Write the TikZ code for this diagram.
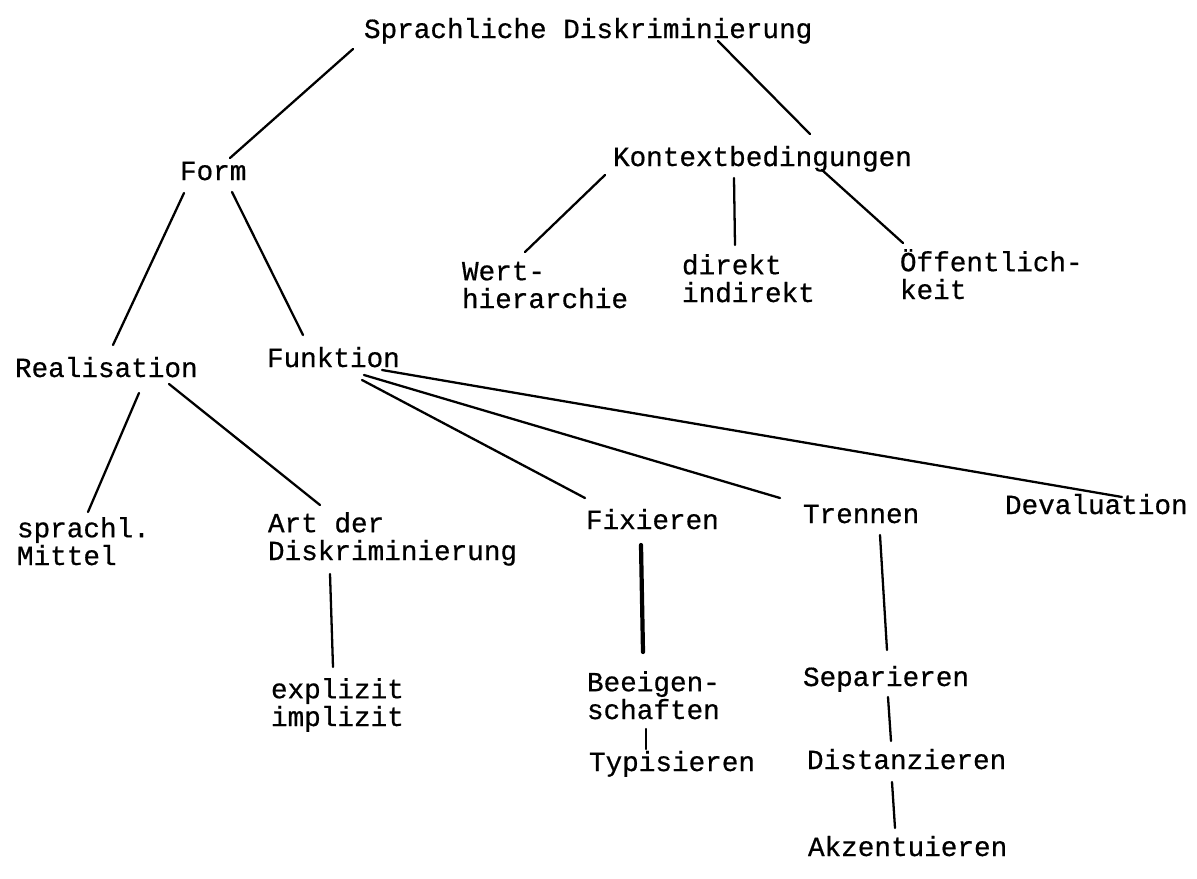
\documentclass[tikz,border=0pt]{standalone}
\usepackage{fontspec}
\newfontfamily\twfont[FakeBold=0.6]{Liberation Mono}
\usetikzlibrary{calc}
\begin{document}
\begin{tikzpicture}[x=0.02cm,y=-0.02cm,
  lbl/.style={anchor=base west,inner sep=0pt,outer sep=0pt,align=left,
    font=\twfont\fontsize{15.75pt}{15.8pt}\selectfont},
  edge/.style={line width=1.3pt,line cap=round},
  boldedge/.style={line width=2.4pt,line cap=round}]
\fill[white] (0,0) rectangle (1197,879);
\useasboundingbox (0,0) rectangle (1197,879);

% nodes (two-line nodes are placed by the baseline of their last line)
\node[lbl] (S)    at (364,38)  {Sprachliche Diskriminierung};
\node[lbl] (form) at (180,180) {Form};
\node[lbl] (K)    at (613,166) {Kontextbedingungen};
\node[lbl] (wert) at (462,308) {Wert-\\hierarchie};
\node[lbl] (dir)  at (682,302) {direkt\\indirekt};
\node[lbl] (oef)  at (900,299) {Öffentlich-\\keit};
\node[lbl] (real) at (15,377)  {Realisation};
\node[lbl] (funk) at (267,367) {Funktion};
\node[lbl] (spr)  at (17,565)  {sprachl.\\Mittel};
\node[lbl] (art)  at (268,560) {Art der\\Diskriminierung};
\node[lbl] (expl) at (271,726) {explizit\\implizit};
\node[lbl] (fix)  at (586,529) {Fixieren};
\node[lbl] (tren) at (803,523) {Trennen};
\node[lbl] (dev)  at (1005,514) {Devaluation};
\node[lbl] (bee)  at (587,719) {Beeigen-\\schaften};
\node[lbl] (typ)  at (589,771) {Typisieren};
\node[lbl] (sep)  at (803,686) {Separieren};
\node[lbl] (dist) at (807,769) {Distanzieren};
\node[lbl] (akz)  at (808,856) {Akzentuieren};

% connectors
\draw[edge] ($(S.base west)+(-11,11)$) -- ($(form.base west)+(50,-22)$);
\draw[edge] ($(S.base west)+(354,3)$) -- ($(K.base west)+(197,-32)$);
\draw[edge] ($(form.base west)+(4,13)$) -- ($(real.base west)+(98,-32)$);
\draw[edge] ($(form.base west)+(52,12)$) -- ($(funk.base west)+(36,-32)$);
\draw[edge] ($(K.base west)+(-8,9)$) -- ($(wert.base west)+(63,-56)$);
\draw[edge] ($(K.base west)+(121,12)$) -- ($(dir.base west)+(53,-57)$);
\draw[edge] ($(K.base west)+(209,4)$) -- ($(oef.base west)+(3,-56)$);
\draw[edge] ($(real.base west)+(124,16)$) -- ($(spr.base west)+(71,-53)$);
\draw[edge] ($(real.base west)+(154,7)$) -- ($(art.base west)+(52,-55)$);
\draw[edge] ($(funk.base west)+(95,13)$) -- ($(fix.base west)+(-1,-31)$);
\draw[edge] ($(funk.base west)+(97,8)$) -- ($(tren.base west)+(-23,-25)$);
\draw[edge] ($(funk.base west)+(115,3)$) -- ($(dev.base west)+(117,-17)$);
\draw[edge] ($(art.base west)+(62,14)$) -- ($(expl.base west)+(62,-59)$);
\draw[boldedge] ($(fix.base west)+(55,16)$) -- ($(bee.base west)+(56,-67)$);
\draw[edge] ($(bee.base west)+(59,10)$) -- ($(typ.base west)+(57,-22)$);
\draw[edge] ($(tren.base west)+(77,12)$) -- ($(sep.base west)+(84,-36)$);
\draw[edge] ($(sep.base west)+(85,11)$) -- ($(dist.base west)+(84,-28)$);
\draw[edge] ($(dist.base west)+(85,13)$) -- ($(akz.base west)+(87,-28)$);
\end{tikzpicture}
\end{document}
